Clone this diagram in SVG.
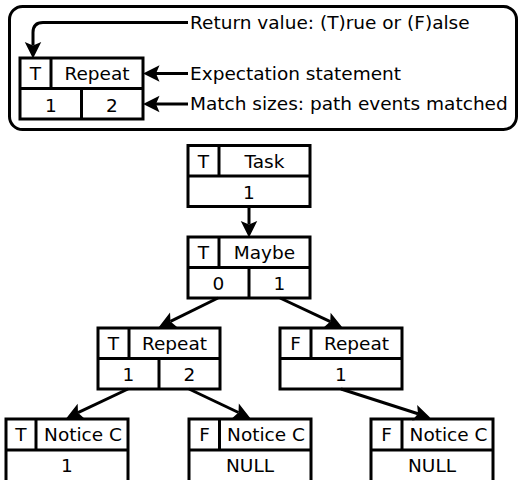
<svg xmlns="http://www.w3.org/2000/svg" width="518" height="480" viewBox="0 0 518 480">
<style>
.box{fill:#fff;stroke:#000;stroke-width:3}
.ln{stroke:#000;stroke-width:3;fill:none}
text{font-family:"DejaVu Sans","Liberation Sans",sans-serif;font-size:18.5px;fill:#000}
.c{text-anchor:middle}
.conn{stroke:#000;stroke-width:3;fill:none;marker-end:url(#ah)}
</style>
<defs>
<marker id="ah" markerUnits="userSpaceOnUse" markerWidth="20" markerHeight="20" refX="0" refY="0" viewBox="-5 -8 17 16" orient="auto" overflow="visible">
<path d="M11,0 L-3,-7 L0,0 L-3,7 Z" fill="#000"/>
</marker>
</defs>
<rect width="518" height="480" fill="#fff"/>

<g id="legend">
<rect x="9.5" y="6.5" width="507" height="123" rx="13" class="box"/>
<g id="legend-node">
<rect x="20" y="58" width="123" height="61" class="box"/>
<line x1="20" y1="88.5" x2="143" y2="88.5" class="ln"/>
<line x1="51" y1="58" x2="51" y2="88.5" class="ln"/>
<line x1="81.5" y1="88.5" x2="81.5" y2="119" class="ln"/>
<text x="35.5" y="80" class="c">T</text>
<text x="97" y="80" class="c">Repeat</text>
<text x="51" y="111.5" class="c">1</text>
<text x="112" y="111.5" class="c">2</text>
</g>
<path d="M188,22.5 H43 Q33,22.5 33,32.5 V45.5" class="conn"/>
<line x1="188" y1="73.5" x2="156" y2="73.5" class="conn"/>
<line x1="188" y1="104" x2="156" y2="104" class="conn"/>
<text x="190" y="28.5">Return value: (T)rue or (F)alse</text>
<text x="190" y="79.5">Expectation statement</text>
<text x="190" y="110">Match sizes: path events matched</text>
</g>

<g id="task">
<rect x="188" y="145.5" width="122" height="61" class="box"/>
<line x1="188" y1="176" x2="310" y2="176" class="ln"/>
<line x1="219" y1="145.5" x2="219" y2="176" class="ln"/>
<text x="203.5" y="167.5" class="c">T</text>
<text x="264.5" y="167.5" class="c">Task</text>
<text x="249" y="198.5" class="c">1</text>
</g>

<g id="maybe">
<rect x="188" y="237" width="122" height="61" class="box"/>
<line x1="188" y1="267.5" x2="310" y2="267.5" class="ln"/>
<line x1="219" y1="237" x2="219" y2="267.5" class="ln"/>
<line x1="249" y1="267.5" x2="249" y2="298" class="ln"/>
<text x="203.5" y="259" class="c">T</text>
<text x="264.5" y="259" class="c">Maybe</text>
<text x="218.5" y="290" class="c">0</text>
<text x="279.5" y="290" class="c">1</text>
</g>

<g id="repeat-left">
<rect x="98" y="328" width="122" height="61" class="box"/>
<line x1="98" y1="358.5" x2="220" y2="358.5" class="ln"/>
<line x1="129" y1="328" x2="129" y2="358.5" class="ln"/>
<line x1="159" y1="358.5" x2="159" y2="389" class="ln"/>
<text x="113.5" y="350" class="c">T</text>
<text x="174.5" y="350" class="c">Repeat</text>
<text x="128.5" y="381" class="c">1</text>
<text x="189.5" y="381" class="c">2</text>
</g>

<g id="repeat-right">
<rect x="280" y="328" width="122" height="61" class="box"/>
<line x1="280" y1="358.5" x2="402" y2="358.5" class="ln"/>
<line x1="311" y1="328" x2="311" y2="358.5" class="ln"/>
<text x="295.5" y="350" class="c">F</text>
<text x="356.5" y="350" class="c">Repeat</text>
<text x="341" y="381" class="c">1</text>
</g>

<g id="notice-left">
<rect x="6" y="419" width="122" height="64" class="box"/>
<line x1="6" y1="450" x2="128" y2="450" class="ln"/>
<line x1="36" y1="419" x2="36" y2="450" class="ln"/>
<text x="21" y="441" class="c">T</text>
<text x="83" y="441" class="c">Notice C</text>
<text x="67" y="472" class="c">1</text>
</g>

<g id="notice-mid">
<rect x="189" y="419" width="122" height="64" class="box"/>
<line x1="189" y1="450" x2="311" y2="450" class="ln"/>
<line x1="219.5" y1="419" x2="219.5" y2="450" class="ln"/>
<text x="204.5" y="441" class="c">F</text>
<text x="266" y="441" class="c">Notice C</text>
<text x="250" y="472" class="c">NULL</text>
</g>

<g id="notice-right">
<rect x="371" y="419" width="122" height="64" class="box"/>
<line x1="371" y1="450" x2="493" y2="450" class="ln"/>
<line x1="402" y1="419" x2="402" y2="450" class="ln"/>
<text x="386.5" y="441" class="c">F</text>
<text x="448.5" y="441" class="c">Notice C</text>
<text x="432" y="472" class="c">NULL</text>
</g>

<g id="connectors">
<line x1="249" y1="206.5" x2="249" y2="224.5" class="conn"/>
<line x1="218" y1="298" x2="170.5" y2="321.4" class="conn"/>
<line x1="280" y1="298" x2="330.3" y2="321.6" class="conn"/>
<line x1="128" y1="389" x2="78" y2="412.7" class="conn"/>
<line x1="189" y1="389" x2="238.5" y2="412.5" class="conn"/>
<line x1="341" y1="389" x2="418" y2="413.8" class="conn"/>
</g>
</svg>
